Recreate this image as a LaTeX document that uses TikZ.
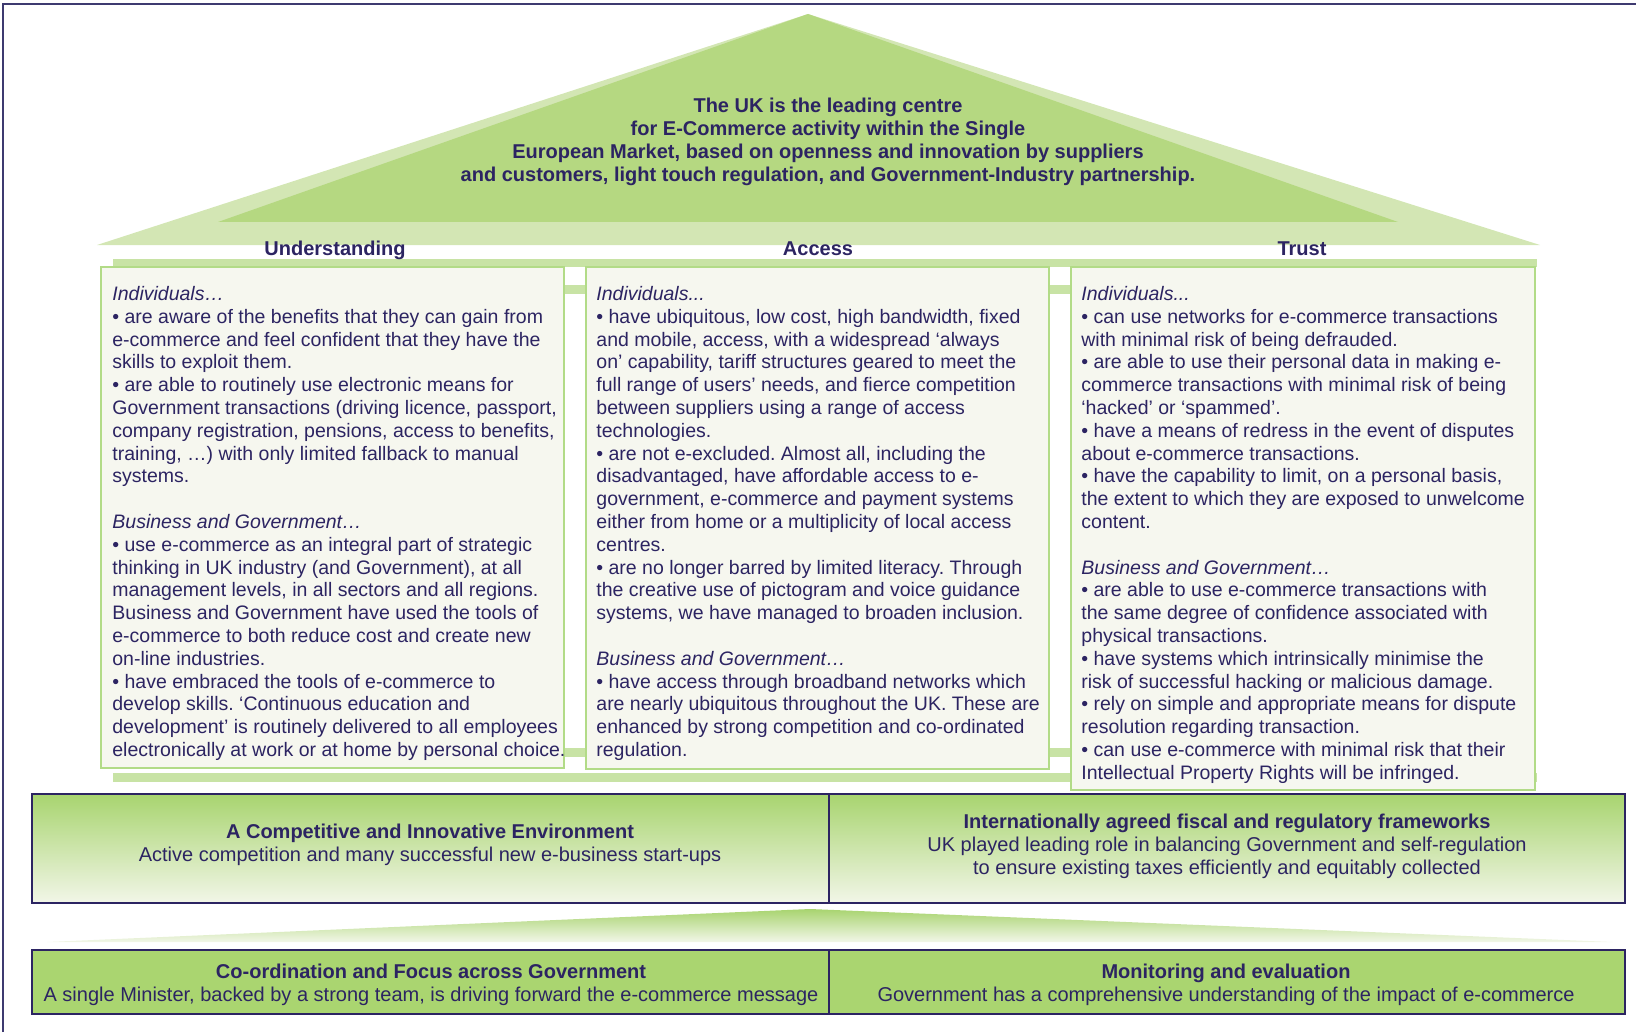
\documentclass[tikz,border=0pt]{standalone}
\usepackage{fontspec}
\setmainfont{Liberation Sans}
\usepackage{tikz}
\usetikzlibrary{arrows,shapes}
\frenchspacing
\definecolor{navy}{RGB}{44,36,98}
\definecolor{framecol}{RGB}{62,58,112}
\definecolor{roofdark}{RGB}{181,216,129}
\definecolor{rooflight}{RGB}{211,230,180}
\definecolor{barcol}{RGB}{200,227,165}
\definecolor{boxfill}{RGB}{246,247,239}
\definecolor{boxline}{RGB}{178,219,135}
\definecolor{bandtop}{RGB}{168,212,111}
\definecolor{bandbot}{RGB}{242,246,232}
\definecolor{basecol}{RGB}{170,213,112}
\tikzstyle{colbox}=[draw=boxline, fill=boxfill, line width=0.7pt]
\tikzstyle{bar}=[fill=barcol]
\tikzstyle{band}=[draw=navy, line width=0.8pt]
\tikzstyle{coltext}=[anchor=north west, inner sep=0pt, align=left, text=navy
,font=\fontsize{9.75}{11.4}\selectfont
]
\tikzstyle{heading}=[anchor=base, inner sep=0pt, text=navy
,font=\fontsize{10}{11.4}\selectfont\bfseries
]
\tikzstyle{bandtext}=[anchor=north, inner sep=0pt, align=center, text=navy
,font=\fontsize{10}{11.4}\selectfont
]

\begin{document}
\begin{tikzpicture}[x=0.5pt,y=-0.5pt]
    \useasboundingbox (0,0) rectangle (1636,1032);
    % Frame
    \draw[framecol, line width=0.8pt] (3,1032) -- (3,4) -- (1636,4);
    % The roof
    \fill[rooflight] (97,245) -- (808,14) -- (1540,245) -- cycle;
    \fill[roofdark] (218,222) -- (808,14) -- (1398,222) -- cycle;
    \node[bandtext, font=\fontsize{10}{11.45}\selectfont\bfseries] (vision) at (828,98)
        {The UK is the leading centre\\
         for E-Commerce activity within the Single\\
         European Market, based on openness and innovation by suppliers\\
         and customers, light touch regulation, and Government-Industry partnership.};
    % Bars that tie the pillars together
    \fill[bar] (113,259) rectangle (1537,267);
    \fill[bar] (113,773) rectangle (1537,782);
    \foreach \xa/\xb in {564/586, 1049/1071}
    {
        \fill[bar] (\xa,285) rectangle (\xb,294);
        \fill[bar] (\xa,748) rectangle (\xb,757);
    }
    % The three pillars
    \foreach \xl/\xr/\yb/\name in {101/564/768/Und, 586/1049/769/Acc, 1071/1535/790/Tru}
        \draw[colbox] (\xl,267) rectangle (\xr,\yb);
    \foreach \x/\txt in {335/Understanding, 818/Access, 1302/Trust}
        \node[heading] (h\txt) at (\x,256) {\txt};
    \node[coltext] (Und) at (112,286)
        {\textit{Individuals…}\\
         • are aware of the benefits that they can gain from\\
         e-commerce and feel confident that they have the\\
         skills to exploit them.\\
         • are able to routinely use electronic means for\\
         Government transactions (driving licence, passport,\\
         company registration, pensions, access to benefits,\\
         training, …) with only limited fallback to manual\\
         systems.\\[11.4pt]
         \textit{Business and Government…}\\
         • use e-commerce as an integral part of strategic\\
         thinking in UK industry (and Government), at all\\
         management levels, in all sectors and all regions.\\
         Business and Government have used the tools of\\
         e-commerce to both reduce cost and create new\\
         on-line industries.\\
         • have embraced the tools of e-commerce to\\
         develop skills. ‘Continuous education and\\
         development’ is routinely delivered to all employees\\
         electronically at work or at home by personal choice.};
    \node[coltext] (Acc) at (596,286)
        {\textit{Individuals...}\\
         • have ubiquitous, low cost, high bandwidth, fixed\\
         and mobile, access, with a widespread ‘always\\
         on’ capability, tariff structures geared to meet the\\
         full range of users’ needs, and fierce competition\\
         between suppliers using a range of access\\
         technologies.\\
         • are not e-excluded. Almost all, including the\\
         disadvantaged, have affordable access to e-\\
         government, e-commerce and payment systems\\
         either from home or a multiplicity of local access\\
         centres.\\
         • are no longer barred by limited literacy. Through\\
         the creative use of pictogram and voice guidance\\
         systems, we have managed to broaden inclusion.\\[11.4pt]
         \textit{Business and Government…}\\
         • have access through broadband networks which\\
         are nearly ubiquitous throughout the UK. These are\\
         enhanced by strong competition and co-ordinated\\
         regulation.};
    \node[coltext] (Tru) at (1081,286)
        {\textit{Individuals...}\\
         • can use networks for e-commerce transactions\\
         with minimal risk of being defrauded.\\
         • are able to use their personal data in making e-\\
         commerce transactions with minimal risk of being\\
         ‘hacked’ or ‘spammed’.\\
         • have a means of redress in the event of disputes\\
         about e-commerce transactions.\\
         • have the capability to limit, on a personal basis,\\
         the extent to which they are exposed to unwelcome\\
         content.\\[11.4pt]
         \textit{Business and Government…}\\
         • are able to use e-commerce transactions with\\
         the same degree of confidence associated with\\
         physical transactions.\\
         • have systems which intrinsically minimise the\\
         risk of successful hacking or malicious damage.\\
         • rely on simple and appropriate means for dispute\\
         resolution regarding transaction.\\
         • can use e-commerce with minimal risk that their\\
         Intellectual Property Rights will be infringed.};
    % The floor under the pillars
    \shade[top color=bandtop, bottom color=bandbot] (32,794) rectangle (1625,903);
    \draw[band] (32,794) rectangle (1625,903);
    \draw[band] (829,794) -- (829,903);
    \node[bandtext] (compete) at (430,824)
        {\textbf{A Competitive and Innovative Environment}\\
         Active competition and many successful new e-business start-ups};
    \node[bandtext] (fiscal) at (1227,814)
        {\textbf{Internationally agreed fiscal and regulatory frameworks}\\
         UK played leading role in balancing Government and self-regulation\\
         to ensure existing taxes efficiently and equitably collected};
    % Step between the floor and the foundation
    \shade[top color=bandtop, bottom color=bandbot] (47,942) -- (810,909) -- (1613,942) -- cycle;
    % The foundation
    \fill[basecol] (32,950) rectangle (1625,1014);
    \draw[band] (32,950) rectangle (1625,1014);
    \draw[band] (829,950) -- (829,1014);
    \node[bandtext] (coord) at (431,964)
        {\textbf{Co-ordination and Focus across Government}\\
         A single Minister, backed by a strong team, is driving forward the e-commerce message};
    \node[bandtext] (monitor) at (1226,964)
        {\textbf{Monitoring and evaluation}\\
         Government has a comprehensive understanding of the impact of e-commerce};
\end{tikzpicture}
\end{document}
